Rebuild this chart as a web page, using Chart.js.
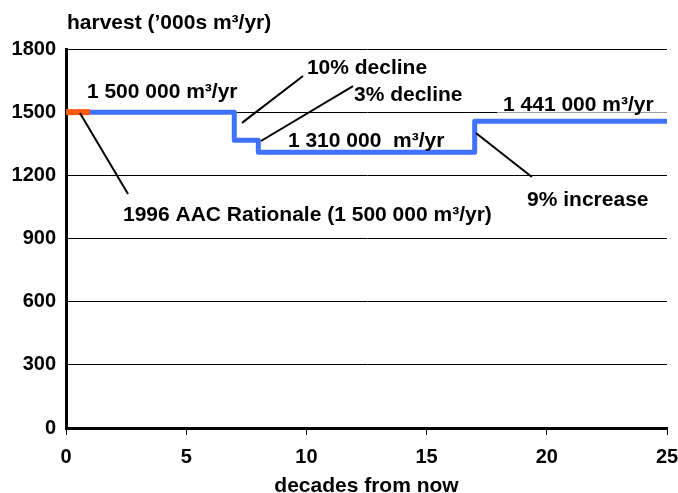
<!DOCTYPE html>
<html>
<head>
<meta charset="utf-8">
<script src="https://cdn.jsdelivr.net/npm/chart.js@4/dist/chart.umd.min.js"></script>
<style>
  html, body { margin: 0; padding: 0; background: #fff; }
  #wrap { width: 678px; height: 493px; }
</style>
</head>
<body>
<div id="wrap"><canvas id="chart" width="678" height="493"></canvas></div>
<script>
// harvest schedule, '000s m3/yr by decade
const decades = [0, 7, 8, 17, 25];
const harvest = [1500, 1367, 1310, 1457, 1457];
const aacDecades = [0, 1];
const aacHarvest = [1500, 1500];
const yTicks = [0, 300, 600, 900, 1200, 1500, 1800];
const xTicks = [0, 5, 10, 15, 20, 25];

// callouts: text with its anchor (left x, middle of caps y) in data units
const labels = [
    { text: '1 500 000 m³/yr', x: 0.87, y: 1605 },
    { text: '10% decline', x: 10.02, y: 1719 },
    { text: '3% decline', x: 11.98, y: 1591 },
    { text: '1 441 000 m³/yr', x: 18.18, y: 1543, bg: true },
    { text: '1 310 000  m³/yr', x: 9.23, y: 1372 },
    { text: '9% increase', x: 19.18, y: 1092 },
    { text: '1996 AAC Rationale (1 500 000 m³/yr)', x: 2.37, y: 1021 }
];
const leaders = [
    [0.58, 1496, 2.58, 1111],
    [7.32, 1449, 9.86, 1672],
    [8.11, 1363, 11.94, 1624],
    [17.05, 1401, 19.38, 1192]
];

const FONT = '"Liberation Sans", Arial, sans-serif';

const callouts = {
    id: 'callouts',
    afterDatasetsDraw(chart) {
        const ctx = chart.ctx;
        const xs = chart.scales.x, ys = chart.scales.y;
        const area = chart.chartArea;
        ctx.save();
        ctx.strokeStyle = '#000';
        ctx.lineWidth = 2;
        for (const l of leaders) {
            ctx.beginPath();
            ctx.moveTo(xs.getPixelForValue(l[0]), ys.getPixelForValue(l[1]));
            ctx.lineTo(xs.getPixelForValue(l[2]), ys.getPixelForValue(l[3]));
            ctx.stroke();
        }
        ctx.font = 'bold 21px ' + FONT;
        ctx.textBaseline = 'alphabetic';
        ctx.textAlign = 'left';
        for (const t of labels) {
            const px = xs.getPixelForValue(t.x);
            const py = ys.getPixelForValue(t.y) + 7.5;
            if (t.bg) {
                ctx.fillStyle = '#fff';
                ctx.fillRect(px - 6, py - 17, area.right - px + 8, 19);
            }
            ctx.fillStyle = '#000';
            ctx.fillText(t.text, px, py);
        }
        // axis titles
        ctx.fillText("harvest (’000s m³/yr)", area.left + 1, 29);
        ctx.textAlign = 'center';
        ctx.fillText('decades from now', (area.left + area.right) / 2, 492);
        ctx.restore();
    }
};

new Chart(document.getElementById('chart'), {
    type: 'line',
    data: {
        datasets: [{
            label: 'AAC',
            data: aacDecades.map((x, i) => ({ x: x, y: aacHarvest[i] })),
            borderColor: '#ff5a0a',
            borderWidth: 6,
            pointRadius: 0,
            order: 1
        }, {
            label: 'harvest',
            data: decades.map((x, i) => ({ x: x, y: harvest[i] })),
            borderColor: '#3f72ff',
            borderWidth: 5,
            borderJoinStyle: 'round',
            stepped: 'before',
            pointRadius: 0,
            order: 2
        }]
    },
    options: {
        responsive: false,
        animation: false,
        layout: { padding: { top: 49, right: 11, left: 0, bottom: 0 } },
        plugins: { legend: { display: false }, tooltip: { enabled: false } },
        scales: {
            x: {
                type: 'linear',
                min: 0, max: 25,
                afterBuildTicks: s => { s.ticks = xTicks.map(v => ({ value: v })); },
                afterFit: s => { s.height = 65; s.paddingRight = 0; },
                grid: { drawOnChartArea: false, drawTicks: true, tickLength: 7, color: '#000', lineWidth: 1 },
                border: { display: true, color: '#000', width: 3 },
                ticks: { color: '#000', font: { family: FONT, size: 20, weight: 'bold' }, padding: 10, maxRotation: 0,
                         callback: v => String(v) }
            },
            y: {
                min: 0, max: 1800,
                afterBuildTicks: s => { s.ticks = yTicks.map(v => ({ value: v })); },
                afterFit: s => { s.width = 66; },
                grid: { drawTicks: false, color: '#000', lineWidth: 1 },
                border: { display: true, color: '#000', width: 3 },
                ticks: { color: '#000', font: { family: FONT, size: 20, weight: 'bold' }, padding: 10,
                         callback: v => String(v) }
            }
        }
    },
    plugins: [callouts]
});
</script>
</body>
</html>
